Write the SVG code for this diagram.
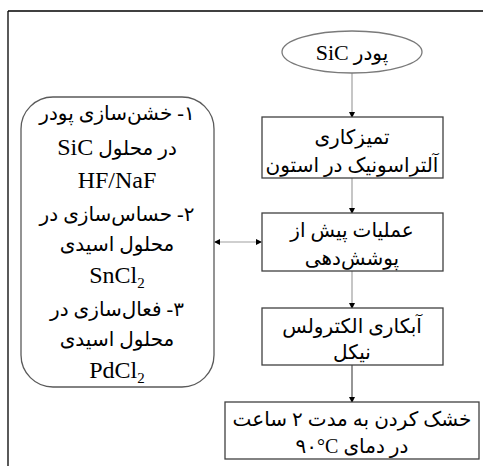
<svg xmlns="http://www.w3.org/2000/svg" width="483" height="466" viewBox="0 0 483 466">
<defs>
<marker id="ah" markerWidth="6" markerHeight="6" refX="5" refY="3" orient="auto" markerUnits="userSpaceOnUse">
<path d="M0,0 L6,3 L0,6 Z" fill="#000"/>
</marker>
<marker id="ahs" markerWidth="6" markerHeight="6" refX="1" refY="3" orient="auto" markerUnits="userSpaceOnUse">
<path d="M6,0 L0,3 L6,6 Z" fill="#000"/>
</marker>
<style>
.box{fill:#fff;stroke:#404040;stroke-width:1.3}
.ell{fill:#fff;stroke:#7a7a7a;stroke-width:1.3}
.rr{fill:#fff;stroke:#5a5a5a;stroke-width:1.3}
.frame{stroke:#000;stroke-width:1.3;fill:none}
.con{stroke:#a0a0a0;stroke-width:1.2;fill:none}
.con2{stroke:#505050;stroke-width:1.2;fill:none}
text{font-family:"Liberation Serif","DejaVu Sans",serif;font-size:20px;fill:#000;text-anchor:middle}
.lat{font-size:24px}
.sub{font-size:15px}
</style>
</defs>
<rect width="483" height="466" fill="#fff"/>
<g id="frame">
<line class="frame" x1="8" y1="11" x2="483" y2="11"/>
<line class="frame" x1="8" y1="11" x2="8" y2="466"/>
</g>
<g id="connectors">
<line class="con" x1="352" y1="73" x2="352" y2="117" marker-end="url(#ah)"/>
<line class="con" x1="352" y1="178" x2="352" y2="213" marker-end="url(#ah)"/>
<line class="con" x1="352" y1="271" x2="352" y2="308" marker-end="url(#ah)"/>
<line class="con2" x1="352" y1="365" x2="352" y2="402" marker-end="url(#ah)"/>
<line class="con" x1="215" y1="242" x2="261" y2="242" marker-start="url(#ahs)" marker-end="url(#ah)"/>
</g>
<g id="n-start">
<ellipse class="ell" cx="352" cy="52" rx="70" ry="21"/>
<text x="352" y="60" direction="rtl">پودر <tspan font-size="22">SiC</tspan></text>
</g>
<g id="n-clean">
<rect class="box" x="262" y="117" width="181" height="61"/>
<text x="352" y="144" direction="rtl">تمیزکاری</text>
<text x="352" y="172" direction="rtl">آلتراسونیک در استون</text>
</g>
<g id="n-pre">
<rect class="box" x="262" y="213" width="181" height="58"/>
<text x="352" y="237" direction="rtl">عملیات پیش از</text>
<text x="352" y="265" direction="rtl">پوشش‌دهی</text>
</g>
<g id="n-plate">
<rect class="box" x="262" y="308" width="181" height="57"/>
<text x="352" y="333" direction="rtl">آبکاری الکترولس</text>
<text x="352" y="359" direction="rtl">نیکل</text>
</g>
<g id="n-dry">
<rect class="box" x="225" y="402" width="254" height="57"/>
<text x="352" y="426" direction="rtl" font-size="21">خشک کردن به مدت ۲ ساعت</text>
<text x="352" y="453" direction="rtl" font-size="21">در دمای &#x202A;۹۰°C&#x202C;</text>
</g>
<g id="n-steps">
<rect class="rr" x="21" y="97" width="193" height="290" rx="32" ry="32"/>
<text x="117" y="120" direction="rtl">۱- خشن‌سازی پودر</text>
<text x="117" y="155"><tspan class="lat">SiC</tspan> در محلول</text>
<text x="117" y="188" class="lat">HF/NaF</text>
<text x="117" y="221" direction="rtl">۲- حساس‌سازی در</text>
<text x="117" y="251" direction="rtl">محلول اسیدی</text>
<text x="117" y="283" class="lat">SnCl<tspan class="sub" dy="5">2</tspan></text>
<text x="117" y="316" direction="rtl">۳- فعال‌سازی در</text>
<text x="117" y="346" direction="rtl">محلول اسیدی</text>
<text x="117" y="378" class="lat">PdCl<tspan class="sub" dy="5">2</tspan></text>
</g>
</svg>
